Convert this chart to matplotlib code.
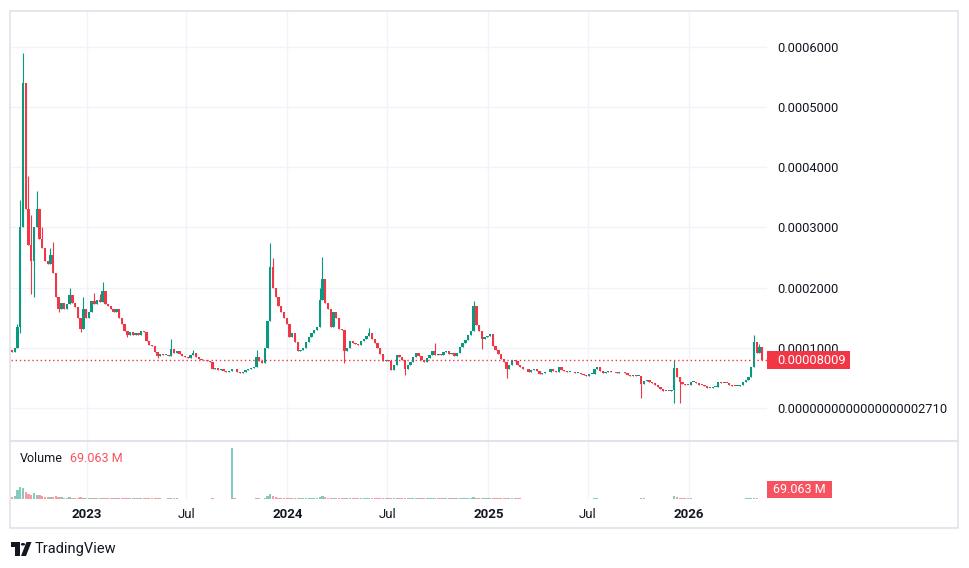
import matplotlib
matplotlib.use("Agg")
import matplotlib.pyplot as plt
import matplotlib.dates as mdates
from matplotlib.patches import Rectangle, Polygon, Circle
from matplotlib.lines import Line2D
import numpy as np
import pandas as pd

W, H, DPI = 970, 568, 100

# ---------------- data (prices in units of 1e-6) ----------------
start_date = "2022-08-18"
step_days = 5
first_open = 96
closes = [
    93, 100, 135, 300, 540, 330, 270, 245, 300, 330,
    280, 265, 245, 240, 255, 225, 185, 165, 175, 165,
    172, 188, 175, 168, 150, 132, 165, 150, 160, 178,
    172, 180, 176, 195, 172, 170, 165, 160, 165, 150,
    140, 128, 122, 126, 122, 124, 122, 128, 126, 112,
    105, 103, 93, 86, 90, 88, 88, 86, 98, 92,
    95, 90, 86, 85, 83, 88, 92, 84, 82, 80,
    79, 78, 77, 64, 66, 63, 64, 61, 60, 62,
    65, 64, 60, 58, 59, 63, 65, 67, 68, 85,
    78, 75, 100, 145, 235, 200, 185, 170, 160, 150,
    140, 118, 125, 110, 95, 97, 100, 110, 118, 125,
    130, 135, 180, 215, 175, 165, 135, 160, 150, 132,
    130, 95, 100, 112, 108, 106, 105, 112, 115, 120,
    125, 115, 108, 100, 90, 78, 80, 78, 63, 72,
    88, 85, 80, 65, 72, 76, 85, 92, 86, 79,
    77, 83, 88, 94, 88, 90, 88, 93, 95, 90,
    92, 87, 92, 102, 108, 113, 122, 128, 170, 138,
    128, 115, 118, 120, 123, 103, 96, 90, 82, 76,
    64, 72, 80, 78, 72, 68, 65, 64, 60, 63,
    64, 61, 56, 58, 60, 59, 64, 61, 60, 68,
    63, 62, 60, 60, 59, 58, 58, 56, 55, 54,
    56, 57, 64, 68, 61, 58, 59, 62, 59, 60,
    58, 59, 59, 58, 55, 54, 55, 53, 53, 40,
    45, 47, 44, 42, 38, 35, 31, 29, 29, 28,
    30, 66, 52, 43, 40, 39, 38, 44, 44, 41,
    39, 38, 36, 34, 34, 35, 35, 44, 41, 42,
    41, 38, 37, 36, 36, 39, 43, 46, 52, 68,
    110, 92, 102, 80.09,
]
wick_high = {2: 140, 3: 345, 4: 590, 5: 430, 6: 385, 7: 320, 9: 360, 11: 300,
             14: 265, 15: 276, 21: 200, 26: 185, 30: 191, 32: 190, 33: 209,
             58: 115, 66: 97, 89: 96, 94: 274, 95: 250, 112: 200, 113: 251,
             130: 133, 154: 108, 168: 178, 241: 80, 270: 121, 272: 106}
wick_low = {3: 125, 7: 190, 8: 185, 17: 160, 25: 126, 42: 118, 53: 83,
            121: 75, 143: 55, 171: 98, 180: 50, 229: 17, 241: 8, 243: 8}
volumes_m = [
    900, 1500, 4500, 6200, 5500, 3800, 2600, 2000, 3000, 2200,
    1800, 1500, 1200, 1100, 900, 1000, 1300, 900, 800, 700,
    700, 900, 600, 650, 700, 800, 600, 500, 550, 500,
    500, 450, 500, 600, 500, 450, 400, 400, 380, 450,
    420, 400, 350, 330, 320, 300, 320, 300, 350, 330,
    300, 280, 320, 300, 260, 250, 240, 260, 380, 280,
    260, 240, 230, 220, 210, 250, 230, 210, 200, 200,
    200, 190, 180, 260, 220, 200, 190, 180, 180, 200,
    26000, 300, 200, 180, 170, 180, 190, 200, 190, 350,
    260, 250, 600, 1500, 2400, 1300, 900, 700, 600, 550,
    500, 550, 450, 420, 400, 380, 400, 420, 430, 450,
    460, 480, 900, 1600, 900, 650, 600, 550, 500, 450,
    420, 600, 400, 380, 360, 340, 330, 340, 350, 360,
    380, 350, 330, 320, 330, 340, 300, 290, 350, 300,
    320, 300, 290, 330, 300, 280, 290, 300, 290, 280,
    270, 280, 290, 300, 400, 300, 280, 270, 280, 270,
    270, 280, 290, 320, 340, 380, 420, 480, 800, 600,
    500, 450, 400, 380, 360, 380, 360, 340, 330, 340,
    450, 330, 300, 280, 270, 260, 250, 240, 240, 230,
    230, 220, 230, 220, 210, 210, 220, 210, 200, 230,
    210, 200, 200, 190, 190, 190, 180, 180, 180, 190,
    180, 190, 260, 280, 220, 200, 190, 190, 180, 180,
    170, 170, 170, 180, 180, 170, 170, 170, 180, 700,
    300, 250, 230, 220, 210, 200, 200, 190, 190, 190,
    220, 1400, 900, 500, 350, 300, 280, 260, 250, 240,
    230, 220, 210, 200, 200, 200, 200, 240, 220, 210,
    200, 200, 190, 190, 190, 200, 220, 260, 300, 400,
    500, 300, 200, 69.063,
]
price_ticks = [0, 100, 200, 300, 400, 500, 600]
price_tick_labels = ["0.0000000000000000002710", "0.0001000", "0.0002000",
                     "0.0003000", "0.0004000", "0.0005000", "0.0006000"]
time_ticks = ["2023-01-01", "2023-07-01", "2024-01-01", "2024-07-01",
              "2025-01-01", "2025-07-01", "2026-01-01"]
time_labels = ["2023", "Jul", "2024", "Jul", "2025", "Jul", "2026"]
last_price_text = "0.00008009"
volume_title = "Volume"
volume_value_text = "69.063 M"
brand = "TradingView"

# ---------------- styling ----------------
UP, DOWN = "#089981", "#f23645"
VUP, VDOWN = (8/255, 153/255, 129/255, 0.5), (242/255, 54/255, 69/255, 0.5)
GRID = "#f0f3fa"
BORDER = "#e0e3eb"
TXT = "#131722"
plt.rcParams["font.family"] = ["Roboto", "DejaVu Sans"]

SCALE = 1e-6
c = np.array(closes, dtype=float) * SCALE
o = np.concatenate([[first_open * SCALE], c[:-1]])
hi = np.maximum(o, c)
lo = np.minimum(o, c)
for k, v in wick_high.items():
    hi[k] = max(hi[k], v * SCALE)
for k, v in wick_low.items():
    lo[k] = min(lo[k], v * SCALE)
dates = pd.date_range(start_date, periods=len(closes), freq=f"{step_days}D")
xd = mdates.date2num(dates.to_pydatetime())
up = c >= o
colors = np.where(up, UP, DOWN)

def fx(px):
    return px / W

def fy(py):
    return 1 - py / H

fig = plt.figure(figsize=(W / DPI, H / DPI), dpi=DPI)
fig.patch.set_facecolor("white")

ax = fig.add_axes([fx(11), fy(441), (767 - 11) / W, (441 - 11) / H])
axv = fig.add_axes([fx(11), fy(499), (767 - 11) / W, (499 - 441) / H], sharex=ax)

ref = mdates.date2num(pd.Timestamp("2023-01-01").to_pydatetime())
ax.set_xlim(ref - 137.7, ref + 1237.8)
ax.set_ylim(-54.8e-6, 659.5e-6)

body_w = 4.2
heights = np.maximum(np.abs(c - o), 1.4 * SCALE)
ax.vlines(xd, lo, hi, colors=colors, lw=0.8, zorder=3)
ax.bar(xd, heights, bottom=np.minimum(o, c), width=body_w, color=colors,
       linewidth=0, zorder=4)

ax.axhline(c[-1], color=DOWN, lw=1.0, ls=(0, (1, 2)), zorder=5)

ax.set_yticks([v * SCALE for v in price_ticks])
ax.set_yticklabels(price_tick_labels)
ax.yaxis.tick_right()
ax.tick_params(axis="y", length=0, pad=7.5, labelsize=9.3, labelcolor=TXT)
tick_nums = [mdates.date2num(pd.Timestamp(t).to_pydatetime()) for t in time_ticks]
ax.set_xticks(tick_nums)
ax.tick_params(axis="x", length=0, labelbottom=False)
ax.grid(True, color=GRID, lw=1, zorder=0)
ax.set_axisbelow(True)
for s in ax.spines.values():
    s.set_visible(False)

# volume
vol = np.array(volumes_m, dtype=float)
vcolors = [VUP if u else VDOWN for u in up]
axv.bar(xd, vol, width=body_w, color=vcolors, linewidth=0, zorder=3)
axv.set_ylim(0, vol.max() * 58 / 51)
axv.set_yticks([])
axv.set_xticks(tick_nums)
axv.set_xticklabels(time_labels)
axv.tick_params(axis="x", length=0, pad=6.8, labelsize=9.5, labelcolor=TXT)
for lab, t in zip(axv.get_xticklabels(), time_labels):
    if t != "Jul":
        lab.set_fontweight("bold")
axv.grid(True, axis="x", color=GRID, lw=1, zorder=0)
axv.set_axisbelow(True)
for s in axv.spines.values():
    s.set_visible(False)

# frame
fig.add_artist(Rectangle((fx(10), fy(528)), (958 - 10) / W, (528 - 11) / H,
                         transform=fig.transFigure, fill=False, ec=BORDER, lw=1.2))
fig.add_artist(Line2D([fx(10), fx(958)], [fy(441), fy(441)],
                      transform=fig.transFigure, color=BORDER, lw=1.5))

# last price label
fig.add_artist(Rectangle((fx(767), fy(369)), (850 - 767) / W, 18 / H,
                         transform=fig.transFigure, color=DOWN, lw=0))
fig.text(fx(777), fy(360), last_price_text, color="white", fontsize=9.3,
         va="center", ha="left")

# volume labels
fig.text(fx(20), fy(458), volume_title, color=TXT, fontsize=9, va="center")
fig.text(fx(70), fy(458), volume_value_text, color="#f7525f", fontsize=9, va="center")
fig.add_artist(Rectangle((fx(767), fy(498)), (832 - 767) / W, 17 / H,
                         transform=fig.transFigure, color="#f7525f", lw=0))
fig.text(fx(799.5), fy(489.5), volume_value_text, color="white", fontsize=9,
         va="center", ha="center")

# TradingView logo + text
def P(x, y):
    return (fx(x), fy(y))
fig.add_artist(Polygon([P(11, 542), P(20, 542), P(20, 556), P(15.5, 556),
                        P(15.5, 546.5), P(11, 546.5)], closed=True,
                       transform=fig.transFigure, color=TXT, lw=0))
fig.add_artist(Circle(P(23, 544.3), 2.2 / W, transform=fig.transFigure, color=TXT, lw=0))
fig.add_artist(Polygon([P(26.5, 542), P(31.5, 542), P(26, 556), P(21, 556)], closed=True,
                       transform=fig.transFigure, color=TXT, lw=0))
fig.text(fx(35), fy(549), brand, color=TXT, fontsize=10.5, va="center", ha="left")

fig.savefig("out.png", dpi=DPI, facecolor="white")
